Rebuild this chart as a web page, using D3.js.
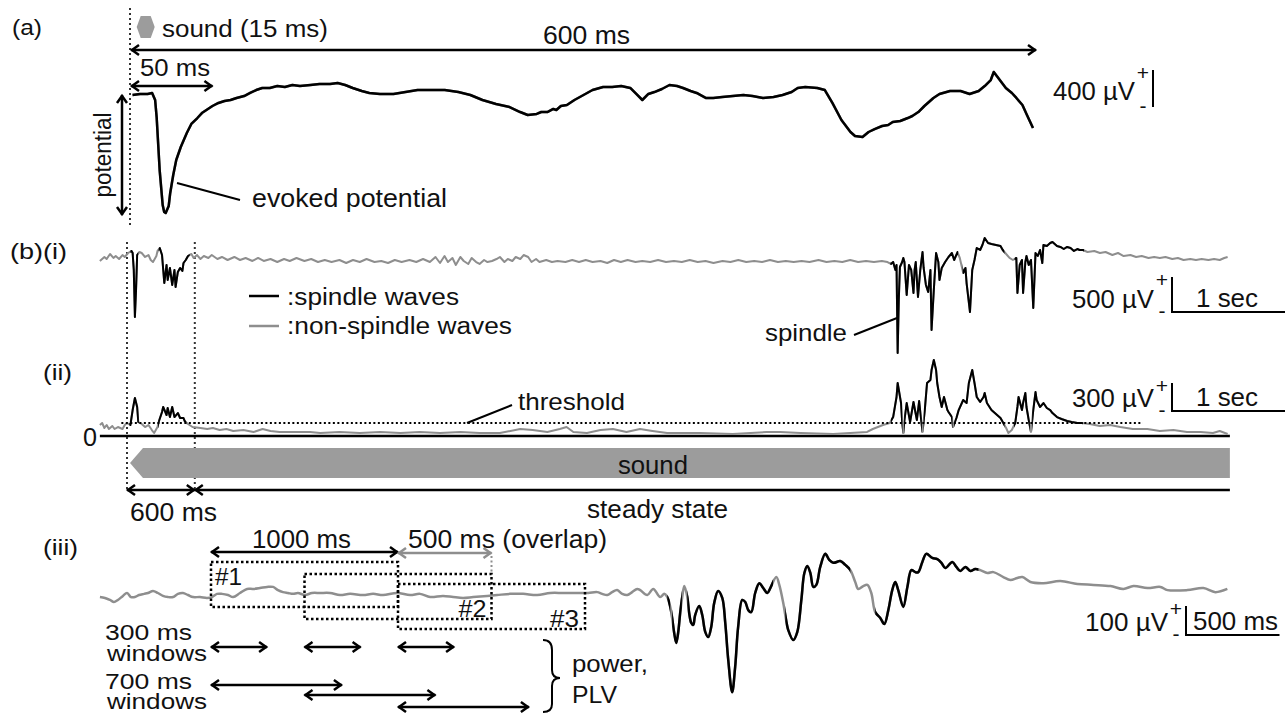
<!DOCTYPE html>
<html>
<head>
<meta charset="utf-8">
<script src="https://cdn.jsdelivr.net/npm/d3@7"></script>
<style>
  body { margin: 0; background: #fff; }
  text { font-family: "Liberation Sans", Arial, sans-serif; fill: #111; }
</style>
</head>
<body>
<svg id="fig" width="1288" height="713"></svg>
<script>
// ---- data ----

// (a) evoked potential: [ms after sound onset, µV]
var evokedTrace = [[1,0],[6,11],[11,11],[14,22],[16,-54],[17,-238],[19,-811],[21,-1189],[22,-1265],[23,-1276],[25,-1200],[26,-1059],[28,-865],[30,-703],[33,-562],[35,-486],[37,-411],[40,-313],[44,-249],[47,-195],[50,-162],[54,-119],[58,-86],[62,-65],[66,-54],[70,-32],[75,-11],[79,22],[83,54],[87,76],[92,76],[97,97],[102,86],[107,108],[112,97],[119,108],[125,119],[132,119],[137,130],[142,108],[147,76],[153,43],[158,22],[165,11],[174,11],[182,32],[190,54],[198,54],[208,54],[217,32],[225,0],[233,-54],[242,-97],[251,-130],[258,-184],[263,-216],[269,-205],[272,-184],[276,-184],[280,-151],[282,-162],[285,-119],[289,-108],[294,-54],[300,0],[306,54],[313,86],[319,86],[325,97],[331,76],[335,11],[339,-54],[343,11],[347,32],[352,65],[357,108],[362,97],[366,76],[371,43],[375,22],[381,-32],[386,-32],[392,-22],[399,-11],[406,0],[412,-11],[419,-32],[426,-22],[432,0],[438,32],[442,76],[447,86],[455,76],[460,54],[465,-86],[471,-270],[477,-400],[480,-443],[485,-454],[489,-400],[493,-368],[498,-335],[502,-324],[505,-292],[510,-281],[515,-249],[518,-227],[522,-184],[526,-119],[532,-32],[536,11],[543,43],[550,43],[556,11],[562,43],[566,97],[570,162],[572,249],[576,162],[580,76],[584,22],[587,-32],[591,-108],[594,-216],[598,-357]];
var soundMs = 15, epochMs = 600, earlyMs = 50;

// (b)(i) raw LFP: [s, µV]
var rawTrace = [[-0.24,-14],[-0.20,43],[-0.18,14],[-0.15,86],[-0.12,29],[-0.10,57],[-0.07,14],[-0.04,71],[-0.02,43],[0.01,100],[0.04,129],[0.05,100],[0.06,-143],[0.07,-814],[0.08,-429],[0.09,71],[0.11,114],[0.13,100],[0.16,43],[0.19,71],[0.21,0],[0.23,-29],[0.26,57],[0.27,129],[0.29,171],[0.31,71],[0.33,-329],[0.35,-71],[0.36,-286],[0.38,-114],[0.40,-357],[0.42,-143],[0.43,-386],[0.45,-171],[0.47,-114],[0.49,-157],[0.50,-43],[0.52,0],[0.54,57],[0.57,86],[0.59,29],[0.62,71],[0.65,14],[0.68,57],[0.72,29],[0.75,71],[0.80,14],[0.84,43],[0.89,0],[0.95,43],[1.00,0],[1.05,29],[1.11,-14],[1.16,29],[1.21,-14],[1.27,14],[1.33,-29],[1.39,14],[1.44,-14],[1.50,29],[1.57,-14],[1.63,14],[1.69,-29],[1.75,0],[1.81,-29],[1.88,0],[1.94,-43],[2.00,0],[2.06,-29],[2.12,14],[2.19,-29],[2.25,-14],[2.31,-43],[2.37,0],[2.43,-29],[2.50,0],[2.56,-29],[2.62,14],[2.68,-29],[2.73,43],[2.77,-43],[2.81,57],[2.84,-29],[2.88,29],[2.91,-71],[2.95,43],[2.98,-14],[3.02,-57],[3.05,29],[3.09,-29],[3.12,-57],[3.16,0],[3.19,-29],[3.23,-14],[3.27,14],[3.30,43],[3.34,-29],[3.37,14],[3.41,-14],[3.44,43],[3.48,14],[3.51,71],[3.55,43],[3.58,-29],[3.62,14],[3.65,-29],[3.71,0],[3.76,-29],[3.81,-14],[3.88,-29],[3.94,0],[4.00,-29],[4.06,0],[4.12,-29],[4.19,-14],[4.25,-43],[4.31,0],[4.37,-29],[4.43,0],[4.50,-29],[4.56,-14],[4.63,-29],[4.70,0],[4.77,-29],[4.84,-14],[4.91,-29],[4.98,0],[5.05,-29],[5.12,-14],[5.19,-43],[5.27,-14],[5.34,-29],[5.41,0],[5.48,-29],[5.55,-14],[5.62,-29],[5.69,0],[5.76,-29],[5.83,-14],[5.90,-29],[5.97,-14],[6.04,-29],[6.12,0],[6.19,-29],[6.26,-14],[6.33,-29],[6.40,0],[6.47,-29],[6.54,-14],[6.61,-29],[6.68,-14],[6.73,-29],[6.76,-57],[6.78,-29],[6.80,-143],[6.81,-71],[6.82,-1329],[6.83,-571],[6.84,-100],[6.86,-29],[6.87,29],[6.88,-29],[6.90,-500],[6.92,-71],[6.94,-143],[6.96,-471],[6.97,-143],[6.98,-29],[7.00,-529],[7.02,-143],[7.04,114],[7.05,-114],[7.07,-357],[7.09,-457],[7.11,-143],[7.12,-1000],[7.14,-429],[7.16,100],[7.18,-29],[7.19,-286],[7.21,-114],[7.24,-29],[7.27,43],[7.30,100],[7.32,0],[7.35,114],[7.37,29],[7.40,-186],[7.42,-114],[7.43,-329],[7.46,-743],[7.48,-143],[7.50,0],[7.52,171],[7.55,143],[7.57,214],[7.59,314],[7.62,243],[7.65,229],[7.69,214],[7.73,200],[7.75,143],[7.78,86],[7.81,29],[7.84,0],[7.87,29],[7.88,-471],[7.90,-71],[7.92,0],[7.93,-471],[7.95,-29],[7.96,57],[7.98,-71],[8.00,0],[8.02,-686],[8.04,100],[8.06,57],[8.08,143],[8.10,-43],[8.11,214],[8.14,200],[8.17,243],[8.19,257],[8.23,200],[8.26,186],[8.29,157],[8.32,186],[8.35,171],[8.38,129],[8.41,157],[8.43,143],[8.46,143],[8.50,114],[8.56,129],[8.61,100],[8.66,114],[8.72,71],[8.77,100],[8.82,57],[8.88,71],[8.93,43],[8.98,57],[9.04,29],[9.09,43],[9.14,29],[9.19,43],[9.25,14],[9.30,29],[9.35,0],[9.41,14],[9.46,0],[9.51,14],[9.57,0],[9.62,14],[9.67,0],[9.71,29],[9.74,43]];
var rawSpindles = [[0.03,0.10],[0.28,0.555],[6.755,7.355],[7.395,7.765],[7.855,8.47]];

// (b)(ii) spindle-band envelope: [s, µV]
var envTrace = [[-0.24,118],[-0.22,139],[-0.20,86],[-0.18,118],[-0.16,75],[-0.13,107],[-0.11,75],[-0.08,96],[-0.04,75],[-0.02,118],[0.00,139],[0.03,118],[0.05,278],[0.07,407],[0.09,311],[0.10,150],[0.13,129],[0.16,96],[0.19,118],[0.22,64],[0.24,32],[0.27,96],[0.28,150],[0.31,257],[0.32,311],[0.35,225],[0.36,300],[0.38,203],[0.40,311],[0.42,203],[0.45,246],[0.47,193],[0.50,193],[0.51,161],[0.54,129],[0.58,96],[0.65,86],[0.71,75],[0.76,86],[0.82,64],[0.88,75],[0.94,54],[1.03,64],[1.12,43],[1.20,75],[1.27,54],[1.35,43],[1.44,43],[1.53,43],[1.62,43],[1.71,32],[1.88,43],[2.06,32],[2.24,43],[2.42,32],[2.59,43],[2.77,32],[2.95,43],[3.12,32],[3.30,32],[3.48,75],[3.59,64],[3.72,43],[3.83,75],[3.89,96],[3.95,43],[4.07,32],[4.19,64],[4.30,75],[4.42,43],[4.54,75],[4.65,54],[4.78,32],[5.07,32],[5.36,21],[5.66,43],[5.78,43],[5.96,32],[6.25,21],[6.55,43],[6.60,75],[6.69,118],[6.75,139],[6.78,203],[6.81,418],[6.82,568],[6.85,353],[6.86,150],[6.87,32],[6.88,171],[6.90,353],[6.93,150],[6.96,364],[6.99,171],[7.01,375],[7.03,150],[7.04,43],[7.06,278],[7.08,568],[7.11,600],[7.12,707],[7.14,814],[7.16,707],[7.17,568],[7.19,418],[7.21,311],[7.23,418],[7.26,278],[7.27,257],[7.30,203],[7.31,96],[7.34,193],[7.36,278],[7.40,386],[7.43,353],[7.45,568],[7.48,707],[7.50,568],[7.52,418],[7.55,364],[7.58,418],[7.59,460],[7.61,353],[7.65,278],[7.68,246],[7.73,193],[7.75,150],[7.78,86],[7.80,32],[7.83,64],[7.86,139],[7.88,311],[7.89,418],[7.92,278],[7.93,353],[7.95,460],[7.96,311],[7.98,171],[8.00,43],[8.02,278],[8.04,471],[8.05,386],[8.08,311],[8.11,353],[8.14,300],[8.17,278],[8.19,246],[8.23,203],[8.27,182],[8.32,161],[8.36,150],[8.41,139],[8.45,139],[8.52,129],[8.61,107],[8.70,118],[8.79,96],[8.90,75],[9.03,75],[9.14,54],[9.26,64],[9.38,43],[9.50,43],[9.61,32],[9.67,54],[9.74,21]];
var envSpindles = [[0.02,0.105],[0.275,0.525],[6.76,6.862],[6.877,7.034],[7.05,7.305],[7.32,7.765],[7.85,7.99],[8.01,8.46]];
var thresholdUV = 139;
var thresholdSpan = [-0.05, 8.99];
var soundSpan = [0, 9.76];   // s
var onsetS = 0.6;            // end of the onset response, s

// (iii) filtered trace: [ms, µV], time 0 = first window
var filtTrace = [[-594,-14],[-567,-17],[-540,-24],[-519,-31],[-498,-24],[-471,-10],[-449,0],[-428,-14],[-407,-14],[-385,-7],[-358,-3],[-337,0],[-310,7],[-284,0],[-257,-10],[-230,-14],[-203,-14],[-177,-3],[-150,0],[-123,-7],[-96,-14],[-59,-14],[-21,-17],[5,-14],[32,-3],[59,-3],[91,-7],[118,-14],[155,0],[193,14],[225,14],[262,17],[300,21],[332,21],[358,10],[385,3],[412,0],[439,-3],[465,0],[503,-7],[540,0],[583,0],[637,0],[690,-7],[744,-3],[813,-7],[867,-3],[920,-7],[995,0],[1065,-7],[1118,-3],[1172,-14],[1241,-10],[1295,-14],[1348,-17],[1402,-14],[1477,-10],[1530,-7],[1600,-3],[1669,-3],[1744,-7],[1814,0],[1883,0],[1958,0],[2017,0],[2065,3],[2092,-3],[2119,-7],[2145,3],[2172,10],[2199,-3],[2226,-7],[2252,3],[2279,14],[2295,10],[2333,-7],[2365,14],[2402,-14],[2424,-3],[2440,-14],[2456,-48],[2466,-86],[2477,-138],[2488,-172],[2498,-138],[2509,-69],[2520,-14],[2531,24],[2547,-14],[2557,-69],[2568,-103],[2579,-110],[2589,-76],[2611,-45],[2627,-76],[2643,-134],[2659,-152],[2675,-117],[2691,-34],[2712,7],[2734,-17],[2750,-103],[2766,-231],[2787,-342],[2803,-255],[2819,-117],[2841,-24],[2857,-31],[2873,-59],[2889,-66],[2910,0],[2932,34],[2953,17],[2975,0],[2991,17],[3023,55],[3039,28],[3060,-34],[3071,-76],[3087,-128],[3114,-162],[3135,-135],[3157,-24],[3173,69],[3189,93],[3205,69],[3221,21],[3237,28],[3258,90],[3285,135],[3306,114],[3328,104],[3365,110],[3392,97],[3419,79],[3445,38],[3461,14],[3488,24],[3510,28],[3531,0],[3552,-66],[3579,-86],[3601,-107],[3622,-59],[3643,10],[3659,38],[3675,10],[3702,-48],[3724,21],[3745,79],[3766,72],[3782,72],[3804,107],[3825,135],[3857,121],[3884,117],[3906,104],[3927,86],[3964,107],[3986,90],[4007,76],[4034,90],[4061,76],[4087,83],[4114,79],[4152,69],[4184,72],[4237,55],[4275,45],[4312,52],[4339,55],[4382,38],[4451,34],[4542,41],[4633,31],[4719,28],[4810,24],[4879,14],[4933,24],[5008,17],[5077,21],[5115,10],[5222,10],[5307,17],[5371,3],[5435,14]];
var filtSpindles = [[2440,2456],[2466,2518],[2547,3006],[3071,3419],[3552,4104]];
var windowStarts = [0, 500, 1000];
var windowNames = ["#1", "#2", "#3"];
var windowMs = 1000, overlapMs = 500;
var shortWinMs = 300, longWinMs = 700;

// ---- drawing ----
var svg = d3.select("#fig");
var GRAY = "#8e8e8e", BAR = "#9c9c9c";

var xa = d3.scaleLinear().domain([0, 600]).range([131, 1036]);
var ya = d3.scaleLinear().domain([0, 400]).range([95, 58]);
var xb = d3.scaleLinear().domain([0, 1]).range([127, 240]);
var yi = d3.scaleLinear().domain([0, 500]).range([260, 225]);
var yii = d3.scaleLinear().domain([0, 300]).range([436, 408]);
var x3 = d3.scaleLinear().domain([0, 1000]).range([211, 398]);
var y3 = d3.scaleLinear().domain([0, 100]).range([593, 564]);

function txt(x, y, s, size, w, anchor) {
  var t = svg.append("text").attr("x", x).attr("y", y).attr("font-size", size).text(s);
  if (w) t.attr("textLength", w).attr("lengthAdjust", "spacingAndGlyphs");
  if (anchor) t.attr("text-anchor", anchor);
  return t;
}

function hArrow(x1, x2, y, left, right, color) {
  var g = svg.append("g").attr("stroke", color || "#000").attr("stroke-width", 2.5).attr("fill", "none");
  g.append("line").attr("x1", x1).attr("x2", x2).attr("y1", y).attr("y2", y);
  if (left) g.append("path").attr("d", "M" + (x1 + 8) + "," + (y - 5) + "L" + (x1 + 1) + "," + y + "L" + (x1 + 8) + "," + (y + 5));
  if (right) g.append("path").attr("d", "M" + (x2 - 8) + "," + (y - 5) + "L" + (x2 - 1) + "," + y + "L" + (x2 - 8) + "," + (y + 5));
}

function seg(x1, y1, x2, y2, opts) {
  opts = opts || {};
  return svg.append("line").attr("x1", x1).attr("y1", y1).attr("x2", x2).attr("y2", y2)
    .attr("stroke", opts.color || "#000").attr("stroke-width", opts.w || 2.5)
    .attr("stroke-dasharray", opts.dash || null);
}

// trace drawn gray with black over the spindle intervals (clipped)
function trace(id, data, xs, ys, spindles, width, curve) {
  var line = d3.line().x(function(d) { return xs(d[0]); }).y(function(d) { return ys(d[1]); });
  if (curve) line.curve(curve);
  var clip = svg.append("clipPath").attr("id", id);
  spindles.forEach(function(s) {
    clip.append("rect").attr("x", xs(s[0])).attr("width", xs(s[1]) - xs(s[0]))
      .attr("y", 0).attr("height", 713);
  });
  svg.append("path").datum(data).attr("d", line).attr("fill", "none")
    .attr("stroke", GRAY).attr("stroke-width", width).attr("stroke-linejoin", "round");
  svg.append("path").datum(data).attr("d", line).attr("fill", "none")
    .attr("stroke", "#000").attr("stroke-width", width).attr("stroke-linejoin", "round")
    .attr("clip-path", "url(#" + id + ")");
}

function voltBar(x, yBottom, len, hLen, vText, hText, textX, textY, hTextX, hTextW) {
  txt(textX, textY, vText, 25, x - textX - 18);
  txt(x - 10, yBottom - len + 10, "+", 21, null, "middle");
  txt(x - 10, yBottom + 6, "-", 21, null, "middle");
  seg(x, yBottom - len, x, yBottom, { w: 2 });
  if (hLen) {
    seg(x - 1, yBottom, x + hLen, yBottom, { w: 2 });
    txt(hTextX, textY - 1, hText, 25, hTextW);
  }
}

// ===== (a) =====
txt(12, 35, "(a)", 22, 30);
seg(xa(0) - 1, 8, xa(0) - 1, 228, { w: 2, dash: "2,3", color: "#333" });
var hx = xa(soundMs * 0.65), hy = 27;
svg.append("polygon")
  .attr("points", [[hx - 9, hy], [hx - 5, hy - 11], [hx + 5, hy - 11], [hx + 9, hy], [hx + 5, hy + 11], [hx - 5, hy + 11]].join(" "))
  .attr("fill", BAR);
txt(162, 37, "sound (15 ms)", 23, 166);
hArrow(xa(0), xa(epochMs), 50, true, true);
txt(543, 44, "600 ms", 26, 87);
hArrow(xa(0), xa(earlyMs) + 6, 86, true, true);
txt(140, 76, "50 ms", 23, 70);
var minEvoked = d3.min(evokedTrace, function(d) { return d[1]; });
(function() {
  var g = svg.append("g").attr("stroke", "#000").attr("stroke-width", 2.5).attr("fill", "none");
  var x = 122, y1 = ya(0), y2 = ya(minEvoked) + 2;
  g.append("line").attr("x1", x).attr("x2", x).attr("y1", y1).attr("y2", y2);
  g.append("path").attr("d", "M" + (x - 5) + "," + (y1 + 8) + "L" + x + "," + (y1 + 1) + "L" + (x + 5) + "," + (y1 + 8));
  g.append("path").attr("d", "M" + (x - 5) + "," + (y2 - 8) + "L" + x + "," + (y2 - 1) + "L" + (x + 5) + "," + (y2 - 8));
})();
svg.append("text").attr("transform", "translate(111,155) rotate(-90)")
  .attr("text-anchor", "middle").attr("font-size", 23)
  .attr("textLength", 85).attr("lengthAdjust", "spacingAndGlyphs").text("potential");
trace("clipA", evokedTrace, xa, ya, [[-10, 700]], 2.5);
seg(177, 183, 240, 200, { w: 2 });
txt(252, 207, "evoked potential", 25, 195);
voltBar(1153, 107, ya(0) - ya(400), 0, "400 µV", null, 1053, 100);

// ===== (b)(i) =====
txt(10, 259, "(b)(i)", 22, 57);
[0, onsetS].forEach(function(t) {
  seg(xb(t), 242, xb(t), 490, { w: 2, dash: "2,3", color: "#333" });
});
trace("clipI", rawTrace, xb, yi, rawSpindles, 2);
seg(249, 296, 279, 296, { w: 2.5 });
seg(249, 326, 279, 326, { w: 2.5, color: GRAY });
txt(287, 305, ":spindle waves", 23, 172);
txt(287, 334, ":non-spindle waves", 23, 225);
seg(854, 335, 897, 318, { w: 2 });
txt(765, 341, "spindle", 24, 82);
voltBar(1172, 312, yi(0) - yi(500), xb(1) - xb(0), "500 µV", "1 sec", 1072, 308, 1196, 62);

// ===== (b)(ii) =====
txt(43, 380, "(ii)", 22, 29);
seg(xb(-0.24), yii(0), xb(soundSpan[1]), yii(0), { w: 2.5 });
txt(83, 446, "0", 25, 14);
trace("clipII", envTrace, xb, yii, envSpindles, 2);
seg(xb(thresholdSpan[0]), yii(thresholdUV), xb(thresholdSpan[1]), yii(thresholdUV), { w: 2, dash: "2,2.5" });
seg(467, 423, 512, 405, { w: 2 });
txt(518, 410, "threshold", 24, 107);
voltBar(1172, 411, yii(0) - yii(300), xb(1) - xb(0), "300 µV", "1 sec", 1072, 407, 1196, 62);

// sound bar
var sb0 = xb(soundSpan[0]) + 3, sb1 = xb(soundSpan[1]);
svg.append("polygon")
  .attr("points", [[sb0, 463], [sb0 + 13, 448], [sb1, 448], [sb1, 478], [sb0 + 13, 478]].join(" "))
  .attr("fill", BAR);
txt((sb0 + sb1) / 2 - 27, 474, "sound", 26, 70, "middle");

// onset / steady state
hArrow(xb(0), xb(onsetS), 490, true, true);
hArrow(xb(onsetS), xb(soundSpan[1]), 490, true, false);
txt(130, 521, "600 ms", 25, 87);
txt(587, 518, "steady state", 25, 141);

// ===== (iii) =====
txt(43, 555, "(iii)", 22, 35);
hArrow(x3(0), x3(windowMs), 552, true, true);
txt(252, 548, "1000 ms", 25, 99);
hArrow(x3(windowMs), x3(windowMs + overlapMs), 553, true, true, GRAY);
txt(408, 548, "500 ms (overlap)", 25, 199);
seg(x3(windowMs + overlapMs), 556, x3(windowMs + overlapMs), 574, { w: 2, dash: "2,2.5", color: GRAY });

trace("clipIII", filtTrace, x3, y3, filtSpindles, 2.5, d3.curveCatmullRom.alpha(0.5));

var boxTop = [562, 574, 584];
windowStarts.forEach(function(s, i) {
  svg.append("rect").attr("x", x3(s)).attr("y", boxTop[i])
    .attr("width", x3(s + windowMs) - x3(s)).attr("height", 45)
    .attr("fill", "none").attr("stroke", "#000").attr("stroke-width", 2.5)
    .attr("stroke-dasharray", "2.5,2.5");
});
txt(x3(windowStarts[0]) + 4, 585, windowNames[0], 23, 27);
txt(x3(windowStarts[1] + windowMs) - 33, 617, windowNames[1], 23, 28);
txt(x3(windowStarts[2] + windowMs) - 35, 627, windowNames[2], 23, 29);

windowStarts.forEach(function(s) {
  hArrow(x3(s), x3(s + shortWinMs), 647, true, true);
});
var longY = [685, 695, 707];
windowStarts.forEach(function(s, i) {
  hArrow(x3(s), x3(s + longWinMs), longY[i], true, true);
});
txt(105, 640, "300 ms", 22, 87);
txt(107, 661, "windows", 22, 100);
txt(105, 689, "700 ms", 22, 87);
txt(107, 709, "windows", 22, 100);

svg.append("path")
  .attr("d", "M543,640 Q552,640 552,650 L552,670 Q552,678 560,678 Q552,678 552,686 L552,704 Q552,712 543,712")
  .attr("fill", "none").attr("stroke", "#000").attr("stroke-width", 2);
txt(572, 672, "power,", 24, 76);
txt(572, 703, "PLV", 24, 45);

voltBar(1186, 635, y3(0) - y3(100), x3(500) - x3(0), "100 µV", "500 ms", 1085, 631, 1193, 85);
</script>
</body>
</html>
